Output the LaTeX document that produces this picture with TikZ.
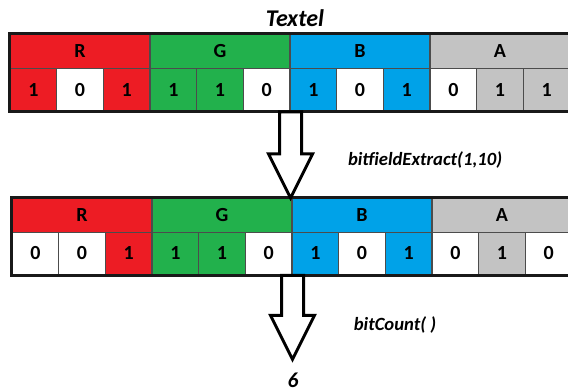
\documentclass[tikz,border=0pt]{standalone}
\usepackage{fontspec}
\setmainfont{Carlito}
\usetikzlibrary{calc,positioning}

\definecolor{chR}{HTML}{ED1C24}
\definecolor{chG}{HTML}{22B14C}
\definecolor{chB}{HTML}{00A2E8}
\definecolor{chA}{HTML}{C3C3C3}

\tikzset{
  cellbase/.style={draw=black!70, line width=0.8pt, inner sep=0pt,
    font=\fontsize{15}{18}\selectfont\bfseries},
  chan/.style={cellbase, minimum width=105pt, minimum height=25.5pt},
  bitbox/.style={cellbase, minimum width=35pt, minimum height=32pt},
  frame/.style={draw=black!90, line width=2.2pt},
  blockarr/.style={draw=black, line width=2.2pt, fill=white, line join=miter},
  fnlabel/.style={font=\fontsize{14}{16}\selectfont\bfseries\itshape},
}

% hollow block arrow: #1 = where the shaft starts, #2 = tip
\newcommand{\blockarrow}[2]{%
  \draw[blockarr] let \p1=(#1), \p2=(#2) in
    (\x2-8.25pt,\y1) -- (\x2-8.25pt,\y2+33pt) -- (\x2-16.5pt,\y2+33pt)
    -- (\x2,\y2) -- (\x2+16.5pt,\y2+33pt) -- (\x2+8.25pt,\y2+33pt)
    -- (\x2+8.25pt,\y1) -- cycle;}

\begin{document}
\begin{tikzpicture}[x=0.75pt, y=-0.75pt]
  \useasboundingbox (0,0) rectangle (568,391);
  \clip (0,0) rectangle (568,391);

  \node[font=\fontsize{18}{20}\selectfont\bfseries\itshape] (title) at (295,18) {Textel};

  % source texel
  \foreach \n/\c [count=\k] in {R/chR, G/chG, B/chB, A/chA}
    \node[chan, fill=\c] (src\n) at ({10+140*(\k-1)+70},51.5) {\n};
  \foreach \v/\f [count=\i] in {1/chR, 0/white, 1/chR, 1/chG, 1/chG, 0/white,
                                1/chB, 0/white, 1/chB, 0/white, 1/chA, 1/chA}
    \node[bitbox, fill=\f] (src\i) at ({10+46.667*(\i-1)+23.333},90) {\v};
  \draw[frame] (srcR.north west) rectangle (src12.south east);

  % extracted texel
  \foreach \n/\c [count=\k] in {R/chR, G/chG, B/chB, A/chA}
    \node[chan, fill=\c] (dst\n) at ({12+140*(\k-1)+70},215.5) {\n};
  \foreach \v/\f [count=\i] in {0/white, 0/white, 1/chR, 1/chG, 1/chG, 0/white,
                                1/chB, 0/white, 1/chB, 0/white, 1/chA, 0/white}
    \node[bitbox, fill=\f] (dst\i) at ({12+46.667*(\i-1)+23.333},253.5) {\v};
  \draw[frame] (dstR.north west) rectangle (dst12.south east);

  % result
  \node[font=\fontsize{16}{18}\selectfont\bfseries\itshape, inner sep=0pt] (res) at (293,380) {6};

  \coordinate (tipA) at (src6.south east |- dstG.north);
  \coordinate (tipB) at ($(dst6.south east |- res.north)+(0,-13)$);
  \blockarrow{src6.south east}{tipA}
  \blockarrow{dst6.south east}{tipB}

  \node[fnlabel] (extract) at (425,160) {bitfieldExtract(1,10)};
  \node[fnlabel] (count) at (395,325) {bitCount( )};
\end{tikzpicture}
\end{document}
